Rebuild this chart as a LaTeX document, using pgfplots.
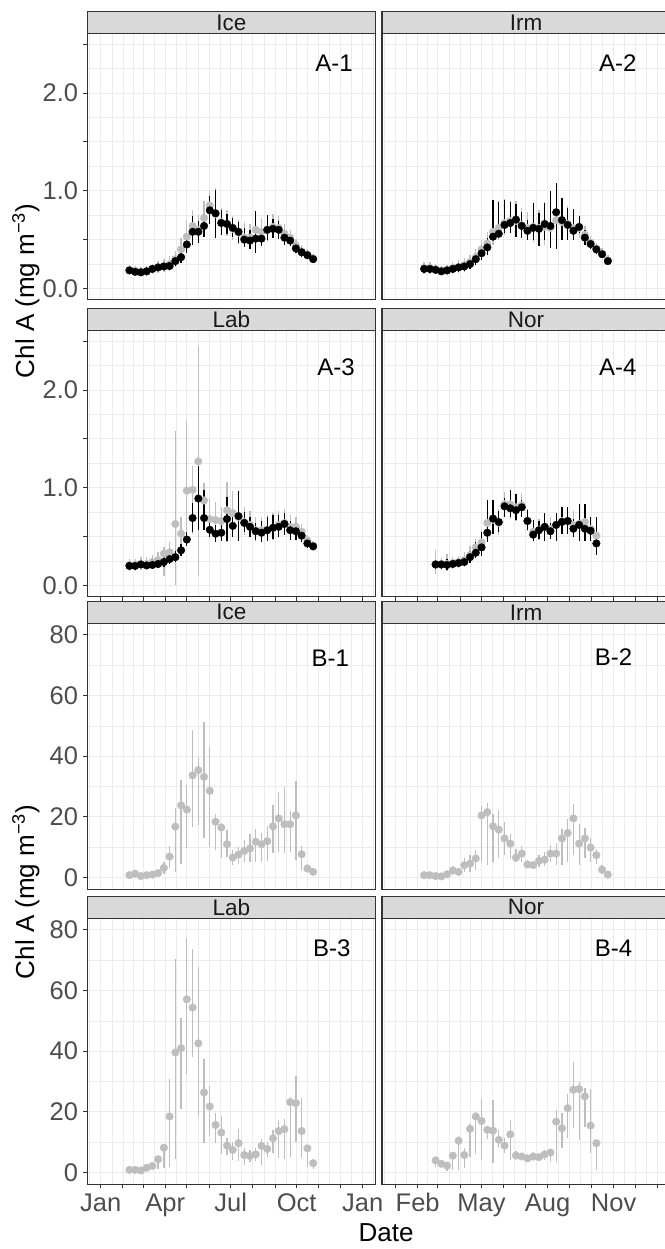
\documentclass[border=0pt]{standalone}
\usepackage{pgfplots}
\pgfplotsset{compat=1.18}
\usepackage{pgfplotstable}
\usepackage{fontspec}
\setmainfont{Liberation Sans}

\definecolor{gridc}{HTML}{EBEBEB}
\definecolor{framec}{HTML}{333333}
\definecolor{stripc}{HTML}{D9D9D9}
\definecolor{tickc}{HTML}{4D4D4D}
\definecolor{ptgrey}{HTML}{BEBEBE}
\definecolor{stript}{HTML}{1A1A1A}

% d = day of year (0 = 1 Jan), 8-day composites
% g/glo/ghi = grey series, k/klo/khi = black series
\pgfplotstableread{
d g glo ghi k klo khi
40 0.19 0.14 0.24 0.185 0.15 0.22
48 0.18 0.13 0.23 0.17 0.14 0.20
56 0.17 0.13 0.22 0.165 0.14 0.20
64 0.18 0.13 0.23 0.175 0.14 0.21
72 0.20 0.15 0.25 0.20 0.16 0.24
80 0.22 0.16 0.28 0.215 0.18 0.25
88 0.23 0.17 0.30 0.225 0.19 0.26
96 0.25 0.18 0.33 0.23 0.19 0.27
104 0.30 0.22 0.38 0.28 0.23 0.33
112 0.40 0.30 0.52 0.32 0.26 0.38
120 0.53 0.40 0.70 0.45 0.36 0.56
128 0.64 0.50 0.80 0.58 0.45 0.74
136 0.60 0.48 0.75 0.58 0.47 0.69
144 0.72 0.58 0.90 0.64 0.53 0.76
152 0.85 0.68 1.00 0.80 0.66 0.95
160 0.76 0.58 1.03 0.77 0.52 1.01
168 0.68 0.55 0.82 0.67 0.55 0.80
176 0.66 0.54 0.80 0.66 0.56 0.76
184 0.61 0.50 0.74 0.62 0.53 0.72
192 0.57 0.46 0.70 0.58 0.47 0.68
200 0.52 0.42 0.68 0.50 0.42 0.62
208 0.52 0.42 0.66 0.49 0.40 0.60
216 0.60 0.45 0.76 0.51 0.36 0.79
224 0.58 0.46 0.72 0.51 0.43 0.60
232 0.60 0.48 0.74 0.60 0.50 0.75
240 0.63 0.52 0.76 0.61 0.52 0.71
248 0.62 0.52 0.74 0.60 0.51 0.69
256 0.56 0.47 0.66 0.52 0.45 0.60
264 0.52 0.44 0.60 0.49 0.43 0.56
272 0.44 0.38 0.51 0.41 0.36 0.47
280 0.38 0.33 0.44 0.37 0.32 0.42
288 0.35 0.30 0.40 0.34 0.30 0.39
296 0.31 0.27 0.35 0.30 0.27 0.34
}\iceA

\pgfplotstableread{
d g glo ghi k klo khi
40 0.21 0.15 0.27 0.20 0.16 0.25
48 0.21 0.15 0.27 0.20 0.16 0.24
56 0.20 0.15 0.25 0.19 0.16 0.23
64 0.185 0.14 0.23 0.175 0.15 0.21
72 0.19 0.14 0.24 0.185 0.15 0.22
80 0.21 0.15 0.27 0.20 0.16 0.24
88 0.22 0.16 0.29 0.215 0.17 0.26
96 0.24 0.17 0.31 0.225 0.18 0.27
104 0.27 0.20 0.34 0.25 0.20 0.30
112 0.32 0.24 0.40 0.30 0.24 0.36
120 0.40 0.30 0.50 0.36 0.29 0.44
128 0.46 0.34 0.58 0.42 0.34 0.52
136 0.58 0.45 0.82 0.53 0.50 0.91
144 0.62 0.50 0.90 0.56 0.55 0.89
152 0.67 0.55 0.92 0.65 0.57 0.91
160 0.69 0.57 0.90 0.67 0.57 0.89
168 0.69 0.55 0.90 0.705 0.53 0.86
176 0.65 0.52 0.82 0.64 0.52 0.78
184 0.62 0.50 0.78 0.59 0.50 0.70
192 0.63 0.48 0.82 0.62 0.50 0.87
200 0.62 0.47 0.80 0.61 0.43 0.77
208 0.63 0.45 0.88 0.66 0.50 0.87
216 0.62 0.44 0.92 0.64 0.41 1.00
224 0.70 0.50 0.98 0.78 0.40 1.08
232 0.68 0.52 0.90 0.70 0.50 0.93
240 0.66 0.52 0.84 0.65 0.50 0.82
248 0.62 0.50 0.78 0.59 0.50 0.81
256 0.62 0.52 0.75 0.63 0.57 0.74
264 0.55 0.47 0.64 0.52 0.45 0.60
272 0.47 0.41 0.54 0.455 0.40 0.51
280 0.41 0.36 0.47 0.40 0.35 0.45
288 0.36 0.31 0.41 0.35 0.31 0.39
296 0.29 0.25 0.34 0.28 0.25 0.32
}\irmA

\pgfplotstableread{
d g glo ghi k klo khi
40 0.21 0.15 0.27 0.20 0.16 0.24
48 0.21 0.15 0.27 0.20 0.16 0.24
56 0.22 0.16 0.29 0.215 0.18 0.25
64 0.22 0.16 0.29 0.205 0.17 0.24
72 0.24 0.17 0.31 0.21 0.17 0.25
80 0.26 0.18 0.34 0.22 0.18 0.27
88 0.325 0.10 0.39 0.24 0.19 0.29
96 0.34 0.25 0.45 0.27 0.22 0.33
104 0.63 0.00 1.58 0.29 0.24 0.35
112 0.53 0.40 0.70 0.36 0.30 0.42
120 0.97 0.53 1.68 0.47 0.40 0.55
128 0.98 0.53 1.22 0.69 0.55 0.84
136 1.27 0.10 2.45 0.89 0.57 1.22
144 0.87 0.60 1.05 0.69 0.57 0.98
152 0.68 0.50 0.90 0.57 0.50 0.70
160 0.67 0.50 0.85 0.53 0.45 0.62
168 0.66 0.55 0.80 0.54 0.46 0.62
176 0.77 0.45 1.06 0.68 0.46 0.91
184 0.74 0.55 0.97 0.61 0.50 0.72
192 0.70 0.55 0.90 0.71 0.46 0.97
200 0.65 0.52 0.80 0.64 0.55 0.75
208 0.62 0.50 0.76 0.60 0.50 0.70
216 0.565 0.46 0.70 0.555 0.47 0.64
224 0.565 0.46 0.70 0.54 0.45 0.66
232 0.57 0.46 0.72 0.565 0.46 0.70
240 0.59 0.47 0.74 0.59 0.48 0.72
248 0.62 0.50 0.76 0.60 0.50 0.72
256 0.64 0.52 0.78 0.63 0.52 0.74
264 0.60 0.50 0.72 0.565 0.47 0.66
272 0.60 0.50 0.70 0.555 0.47 0.64
280 0.55 0.47 0.63 0.51 0.45 0.57
288 0.46 0.40 0.52 0.43 0.38 0.47
296 0.41 0.36 0.46 0.40 0.36 0.44
}\labA

\pgfplotstableread{
d g glo ghi k klo khi
56 0.22 0.12 0.36 0.215 0.17 0.26
64 0.22 0.16 0.28 0.215 0.17 0.26
72 0.22 0.15 0.32 0.21 0.16 0.27
80 0.23 0.17 0.29 0.22 0.18 0.26
88 0.24 0.18 0.30 0.23 0.19 0.27
96 0.26 0.19 0.34 0.24 0.20 0.29
104 0.31 0.23 0.40 0.29 0.23 0.35
112 0.39 0.30 0.48 0.335 0.28 0.45
120 0.44 0.33 0.57 0.39 0.30 0.55
128 0.64 0.50 0.80 0.54 0.45 0.87
136 0.67 0.55 0.82 0.685 0.53 0.87
144 0.64 0.52 0.78 0.65 0.55 0.76
152 0.83 0.70 0.96 0.81 0.70 0.90
160 0.83 0.68 0.98 0.79 0.70 0.98
168 0.80 0.66 0.94 0.77 0.67 0.94
176 0.82 0.70 0.95 0.80 0.70 0.87
184 0.66 0.56 0.78 0.66 0.57 0.77
192 0.55 0.45 0.66 0.52 0.46 0.67
200 0.57 0.47 0.68 0.565 0.48 0.66
208 0.60 0.50 0.72 0.60 0.46 0.74
216 0.58 0.48 0.70 0.555 0.48 0.64
224 0.62 0.50 0.74 0.62 0.46 0.74
232 0.66 0.54 0.78 0.65 0.53 0.80
240 0.66 0.54 0.80 0.66 0.53 0.80
248 0.62 0.50 0.76 0.58 0.50 0.68
256 0.63 0.50 0.78 0.62 0.46 0.83
264 0.65 0.52 0.78 0.58 0.46 0.83
272 0.58 0.48 0.70 0.56 0.46 0.70
280 0.51 0.38 0.62 0.43 0.31 0.70
}\norA

\pgfplotstableread{
d y lo hi
40 0.8 0.3 1.3
48 1.3 0.6 2.0
56 0.5 0.2 0.9
64 0.8 0.3 1.3
72 1.0 0.4 1.6
80 1.5 0.6 2.5
88 3.2 1.2 5.0
96 6.9 3.2 10.5
104 16.8 1.9 22.8
112 23.8 4.6 32.3
120 22.4 9.6 30.4
128 33.7 16.7 48.6
136 35.4 17.3 39.6
144 33.2 12.9 51.3
152 28.6 10.0 43.0
160 18.4 9.0 20.8
168 16.5 6.5 18.0
176 11.0 6.8 15.6
184 6.6 4.0 9.0
192 7.6 4.5 10.0
200 8.8 5.0 12.5
208 9.6 5.2 14.3
216 11.8 5.0 16.0
224 11.0 5.2 14.6
232 12.0 5.5 17.0
240 16.9 8.0 24.0
248 19.5 8.5 28.2
256 17.6 8.1 29.7
264 17.6 8.5 22.0
272 20.5 5.7 31.8
280 7.7 2.4 10.5
288 3.0 1.5 4.5
296 1.9 1.0 2.8
}\iceB

\pgfplotstableread{
d y lo hi
40 0.8 0.3 1.3
48 0.8 0.3 1.3
56 0.5 0.2 0.9
64 0.4 0.2 0.8
72 1.1 0.4 1.8
80 2.4 1.0 3.8
88 1.9 0.8 3.0
96 4.1 1.8 6.5
104 4.6 2.0 7.5
112 6.3 2.5 9.2
120 20.5 5.2 23.6
128 21.6 4.1 24.7
136 16.9 5.0 21.0
144 15.8 6.3 22.4
152 12.9 7.3 18.4
160 11.2 6.0 14.5
168 6.6 5.0 9.5
176 7.9 5.0 10.5
184 4.3 3.0 5.8
192 4.1 2.8 5.6
200 5.5 3.5 7.5
208 5.9 3.8 8.5
216 7.9 5.2 10.6
224 7.9 4.0 11.5
232 12.9 4.0 16.0
240 14.7 5.2 19.2
248 19.5 7.4 24.4
256 11.2 4.1 17.6
264 12.9 6.3 16.3
272 9.9 5.2 12.9
280 7.4 4.5 9.5
288 2.6 1.3 4.0
296 1.0 0.5 1.6
}\irmB

\pgfplotstableread{
d y lo hi
40 0.9 0.4 1.4
48 0.9 0.4 1.4
56 0.7 0.3 1.1
64 1.6 0.8 2.4
72 2.2 1.2 3.3
80 4.4 1.2 5.5
88 8.2 1.4 9.5
96 18.5 2.0 30.9
104 39.6 4.4 70.4
112 41.0 21.0 50.9
120 57.1 32.5 77.3
128 54.4 38.2 73.6
136 42.6 18.7 67.7
144 26.4 9.9 37.4
152 21.8 11.9 28.6
160 15.7 9.7 19.6
168 13.2 6.2 18.7
176 8.9 5.8 11.3
184 7.5 4.0 10.0
192 9.7 3.9 14.5
200 5.8 2.5 8.0
208 5.5 3.6 7.5
216 6.0 3.8 8.0
224 8.8 2.5 11.0
232 7.8 5.0 10.0
240 11.3 6.3 14.0
248 13.7 4.7 17.3
256 14.3 4.4 17.8
264 23.2 5.3 25.0
272 22.9 10.0 31.9
280 13.7 4.7 24.5
288 8.0 2.0 9.1
296 3.1 1.1 4.2
}\labB

\pgfplotstableread{
d y lo hi
56 4.0 2.0 5.5
64 2.9 1.5 4.0
72 2.3 0.5 3.5
80 5.6 0.7 6.5
88 10.5 0.7 12.0
96 5.8 1.5 8.0
104 14.4 5.3 16.0
112 18.5 6.0 20.0
120 17.0 4.2 24.2
128 14.1 11.0 15.5
136 13.8 3.1 24.0
144 10.8 8.0 14.0
152 8.9 6.5 11.5
160 12.6 4.2 17.4
168 5.6 4.5 7.0
176 5.3 4.2 6.5
184 4.7 3.6 6.0
192 5.3 3.8 6.8
200 5.1 3.8 6.5
208 6.0 4.0 7.5
216 6.6 3.6 7.7
224 16.8 3.6 20.7
232 14.6 8.2 19.8
240 21.2 11.3 25.8
248 27.3 14.6 36.6
256 27.5 10.8 30.0
264 25.1 15.0 28.0
272 15.5 6.4 27.6
280 9.7 0.9 10.5
}\norB

\tikzset{plab/.style={font=\fontsize{24}{28}\selectfont, text=black}}

\pgfplotsset{
  panel/.style={
    scale only axis, width=288pt, height=266pt,
    xmin=-18.7, xmax=382.6,
    xtick={0,31,59,90,120,151,181,212,243,273,304,334,365},
    minor xtick={-15.5,15.5,45,74.5,105,135.5,166,196.5,227.5,258,288.5,319,349.5,380.5},
    xticklabels={},
    grid=both,
    major grid style={draw=gridc, line width=0.9pt},
    minor grid style={draw=gridc, line width=0.6pt},
    axis line style={draw=framec, line width=1.1pt},
    tick align=outside, xtick pos=bottom, ytick pos=left,
    major tick length=4pt, minor tick length=0pt,
    tick style={draw=framec, line width=1pt},
    tick label style={font=\fontsize{25.5}{30}\selectfont, text=tickc},
    xticklabel style={text height=18pt, text depth=5pt, inner ysep=5pt},
    yticklabel style={inner xsep=5pt},
  },
  apanel/.style={panel, ymin=-0.113, ymax=2.61,
    ytick={0,0.5,1,1.5,2,2.5}, minor ytick={0.25,0.75,1.25,1.75,2.25},
    yticklabels={0.0,,1.0,,2.0,}},
  bpanel/.style={panel, ymin=-3.86, ymax=83.8,
    ytick={0,20,40,60,80}, minor ytick={10,30,50,70},
    yticklabels={0,20,40,60,80}},
  noxticks/.style={xtick style={draw=none}},
  noyticks/.style={ytick style={draw=none}, yticklabels={}},
  leftlabels/.style={xticklabels={Jan,,,Apr,,,Jul,,,Oct,,,Jan}},
  rightlabels/.style={xticklabels={,Feb,,,May,,,Aug,,,Nov,,}},
  greypts/.style={only marks, mark=*, mark size=3.8pt, color=ptgrey,
    error bars/y dir=both, error bars/y explicit, error bars/error mark=none,
    error bars/error bar style={line width=1.3pt, color=ptgrey}},
  blackpts/.style={only marks, mark=*, mark size=3.8pt, color=black,
    error bars/y dir=both, error bars/y explicit, error bars/error mark=none,
    error bars/error bar style={line width=1.3pt, color=black}},
}

\newcommand{\twoseries}[1]{%
  \addplot[greypts] table[x=d, y=g,
    y error plus expr=\thisrow{ghi}-\thisrow{g},
    y error minus expr=\thisrow{g}-\thisrow{glo}] {#1};
  \addplot[blackpts] table[x=d, y=k,
    y error plus expr=\thisrow{khi}-\thisrow{k},
    y error minus expr=\thisrow{k}-\thisrow{klo}] {#1};
}
\newcommand{\oneseries}[1]{%
  \addplot[greypts] table[x=d, y=y,
    y error plus expr=\thisrow{hi}-\thisrow{y},
    y error minus expr=\thisrow{y}-\thisrow{lo}] {#1};
}
\newcommand{\strip}[2]{%
  \draw[fill=stripc, draw=framec, line width=1.1pt] (#1.north west) rectangle ([yshift=22pt]#1.north east);
  \node[font=\fontsize{22.5}{26}\selectfont, text=stript] at ([yshift=11pt]#1.north) {#2};
}

\begin{document}
\begin{tikzpicture}
% ---- A: rows 1 and 2
\begin{axis}[apanel, noxticks, name=a1, at={(87.3pt,-299.5pt)}, anchor=south west]
\twoseries{\iceA}
\node[plab] at (axis cs:325,2.31) {A-1};
\end{axis}
\begin{axis}[apanel, noxticks, noyticks, name=a2, at={(382pt,-299.5pt)}, anchor=south west]
\twoseries{\irmA}
\node[plab] at (axis cs:310,2.31) {A-2};
\end{axis}
\begin{axis}[apanel, name=a3, at={(87.3pt,-596.5pt)}, anchor=south west]
\twoseries{\labA}
\node[plab] at (axis cs:328,2.23) {A-3};
\end{axis}
\begin{axis}[apanel, noyticks, name=a4, at={(382pt,-596.5pt)}, anchor=south west]
\twoseries{\norA}
\node[plab] at (axis cs:310,2.23) {A-4};
\end{axis}
% ---- B: rows 3 and 4
\begin{axis}[bpanel, noxticks, name=b1, at={(87.3pt,-889.3pt)}, anchor=south west]
\oneseries{\iceB}
\node[plab] at (axis cs:320,72.2) {B-1};
\end{axis}
\begin{axis}[bpanel, noxticks, noyticks, name=b2, at={(382pt,-889.3pt)}, anchor=south west]
\oneseries{\irmB}
\node[plab] at (axis cs:304,72.6) {B-2};
\end{axis}
\begin{axis}[bpanel, leftlabels, name=b3, at={(87.3pt,-1184.3pt)}, anchor=south west]
\oneseries{\labB}
\node[plab] at (axis cs:322,74) {B-3};
\end{axis}
\begin{axis}[bpanel, noyticks, rightlabels, name=b4, at={(382pt,-1184.3pt)}, anchor=south west]
\oneseries{\norB}
\node[plab] at (axis cs:304,74) {B-4};
\end{axis}

\strip{a1}{Ice}\strip{a2}{Irm}\strip{a3}{Lab}\strip{a4}{Nor}
\strip{b1}{Ice}\strip{b2}{Irm}\strip{b3}{Lab}\strip{b4}{Nor}

\node[rotate=90, anchor=base, font=\fontsize{26}{30}\selectfont] at (34pt,-291pt) {Chl A (mg m\textsuperscript{−3})};
\node[rotate=90, anchor=base, font=\fontsize{26}{30}\selectfont] at (34pt,-892pt) {Chl A (mg m\textsuperscript{−3})};
\node[anchor=base, font=\fontsize{26}{30}\selectfont] at (386pt,-1241pt) {Date};

\pgfresetboundingbox
\useasboundingbox (0pt,0pt) rectangle (664pt,-1249pt);
\end{tikzpicture}
\end{document}
